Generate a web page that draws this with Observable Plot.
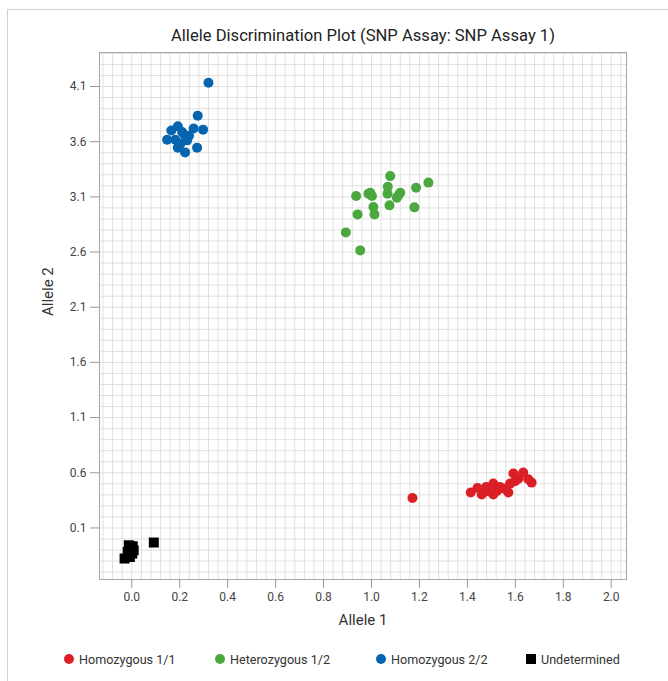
<!DOCTYPE html>
<html>
<head>
<meta charset="utf-8">
<script src="https://cdn.jsdelivr.net/npm/d3@7"></script>
<script src="https://cdn.jsdelivr.net/npm/@observablehq/plot@0.6"></script>
<style>
  body { margin: 0; background: #fff; font-family: Roboto, "Liberation Sans", sans-serif; }
  #wrap { position: relative; width: 668px; height: 681px; overflow: hidden; }
  #panel { position: absolute; left: 7px; top: 9px; width: 720px; height: 720px; border: 1px solid #d2d2d2; box-sizing: border-box; }
  #title { position: absolute; left: 99px; width: 528px; top: 26px; text-align: center; font-size: 16.6px; color: #222; line-height: 20px; white-space: nowrap; }
  #chart { position: absolute; left: 0; top: 0; }
  .leg { position: absolute; top: 651px; height: 16px; font-size: 12.6px; color: #333; display: flex; align-items: center; white-space: nowrap; }
  .sw { display: inline-block; width: 10px; height: 10px; margin-right: 5px; }
  .sw.c { border-radius: 50%; }
</style>
</head>
<body>
<div id="wrap">
  <div id="panel"></div>
  <div id="title">Allele Discrimination Plot (SNP Assay: SNP Assay 1)</div>
  <div id="chart"></div>
  <div id="legend"></div>
</div>
<script>
// ---- data ----
const categories = ["Homozygous 1/1", "Heterozygous 1/2", "Homozygous 2/2", "Undetermined"];
const colors = ["#da1f26", "#4aa83e", "#0765b0", "#000000"];

const hom11X = [1.171, 1.414, 1.442, 1.460, 1.478, 1.508, 1.508, 1.5225, 1.550, 1.571, 1.578, 1.592, 1.599, 1.633, 1.668, 1.654, 1.536, 1.4875, 1.6125];
const hom11Y = [0.372, 0.421, 0.462, 0.403, 0.471, 0.502, 0.403, 0.432, 0.457, 0.421, 0.502, 0.593, 0.523, 0.602, 0.511, 0.541, 0.471, 0.432, 0.547];

const het12X = [1.078, 1.2375, 1.186, 0.936, 0.995, 1.002, 1.068, 1.067, 1.120, 1.106, 1.008, 1.075, 1.179, 0.942, 1.0125, 0.893, 0.953, 0.9875, 1.1125];
const het12Y = [3.288, 3.229, 3.183, 3.107, 3.138, 3.107, 3.192, 3.129, 3.138, 3.093, 3.008, 3.023, 3.005, 2.941, 2.941, 2.778, 2.615, 3.129, 3.114];

const hom22X = [0.192, 0.165, 0.1475, 0.182, 0.220, 0.258, 0.2975, 0.275, 0.320, 0.192, 0.2225, 0.2725, 0.231, 0.239, 0.210, 0.203];
const hom22Y = [3.739, 3.702, 3.618, 3.618, 3.660, 3.720, 3.709, 3.835, 4.134, 3.546, 3.503, 3.546, 3.612, 3.654, 3.687, 3.582];

const undetX = [-0.0125, 0.004, -0.017, 0.002, -0.030, -0.008, 0.008, 0.092];
const undetY = [-0.057, -0.066, -0.117, -0.132, -0.177, -0.163, -0.102, -0.032];

const xTicks = [0.0, 0.2, 0.4, 0.6, 0.8, 1.0, 1.2, 1.4, 1.6, 1.8, 2.0];
const yTicks = [0.1, 0.6, 1.1, 1.6, 2.1, 2.6, 3.1, 3.6, 4.1];
const xDomain = [-0.1346, 2.0638];
const yDomain = [-0.367, 4.408];
const xLabel = "Allele 1";
const yLabel = "Allele 2";

// ---- build table ----
function rows(xs, ys, g) { return xs.map((x, i) => ({x, y: ys[i], group: g})); }
const circles = [
  ...rows(hom11X, hom11Y, categories[0]),
  ...rows(het12X, het12Y, categories[1]),
  ...rows(hom22X, hom22Y, categories[2])
];
const squares = rows(undetX, undetY, categories[3]);

const xGrid = d3.range(-3, 52).map(i => +(i * 0.04).toFixed(2)).filter(v => v > xDomain[0] && v < xDomain[1]);
const yGrid = d3.range(-3, 45).map(i => +(i * 0.1).toFixed(2)).filter(v => v > yDomain[0] && v < yDomain[1]);

const chart = Plot.plot({
  width: 668,
  height: 640,
  marginTop: 52,
  marginRight: 42,
  marginBottom: 61,
  marginLeft: 99,
  style: { fontFamily: "Roboto, 'Liberation Sans', sans-serif", fontSize: "12px", background: "transparent", color: "#444" },
  x: { domain: xDomain, label: null },
  y: { domain: yDomain, label: null },
  color: { domain: categories, range: colors },
  marks: [
    Plot.gridX({ ticks: xGrid, stroke: "#e0e0e0", strokeOpacity: 1 }),
    Plot.gridY({ ticks: yGrid, stroke: "#e0e0e0", strokeOpacity: 1 }),
    Plot.frame({ stroke: "#a8a8a8" }),
    Plot.axisX({ ticks: xTicks, tickFormat: d3.format(".1f"), tickSize: 9, tickPadding: 4, stroke: "#999", fill: "#444", label: null }),
    Plot.axisY({ ticks: yTicks, tickFormat: d3.format(".1f"), tickSize: 9, tickPadding: 4, stroke: "#999", fill: "#444", label: null }),
    Plot.text([xLabel], { frameAnchor: "bottom", dy: 45, fontSize: 15, fill: "#333" }),
    Plot.text([yLabel], { frameAnchor: "left", dx: -51, rotate: -90, fontSize: 15, fill: "#333" }),
    Plot.dot(circles, { x: "x", y: "y", fill: "group", r: 5, stroke: null }),
    Plot.dot(squares, { x: "x", y: "y", fill: "group", r: 5.64, symbol: "square", stroke: null })
  ]
});
document.getElementById("chart").appendChild(chart);

// ---- legend ----
const legendLeft = [64, 215, 376, 526];
const legend = document.getElementById("legend");
categories.forEach((c, i) => {
  const item = document.createElement("div");
  item.className = "leg";
  item.style.left = legendLeft[i] + "px";
  const sw = document.createElement("span");
  sw.className = "sw" + (i < 3 ? " c" : "");
  sw.style.background = colors[i];
  item.appendChild(sw);
  item.appendChild(document.createTextNode(c));
  legend.appendChild(item);
});
</script>
</body>
</html>
